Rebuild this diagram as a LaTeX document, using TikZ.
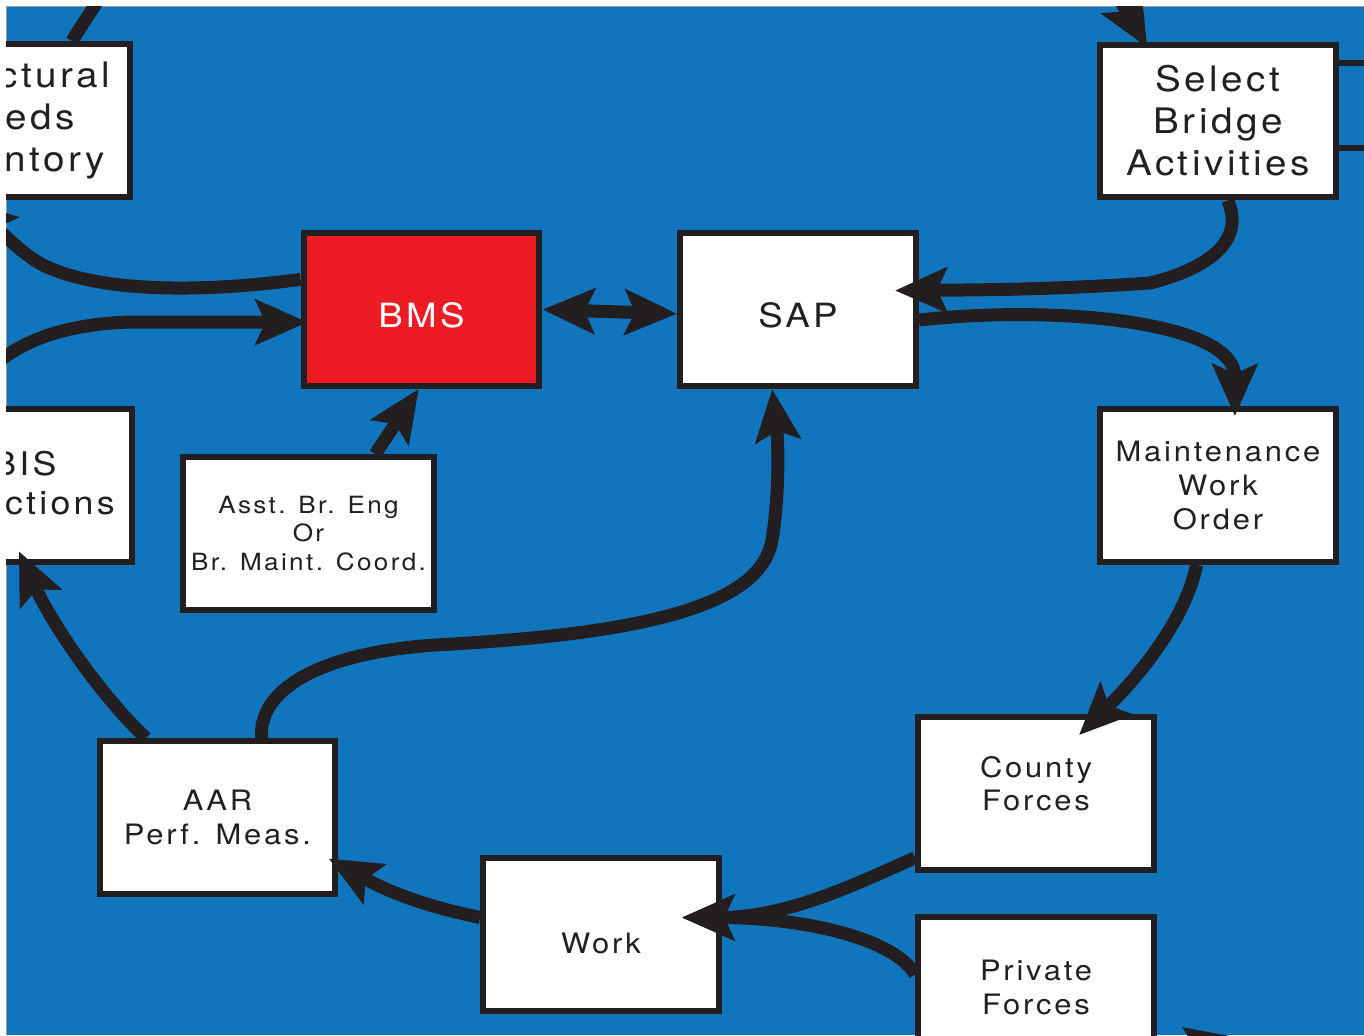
\documentclass[tikz,border=0pt]{standalone}
\usepackage{fontspec}
\setmainfont{TeX Gyre Heros}[LetterSpace=10, FakeStretch=1.1]
\usetikzlibrary{arrows.meta}
\definecolor{bgblue}{RGB}{17,117,189}
\definecolor{ink}{RGB}{35,31,32}
\definecolor{bmsred}{RGB}{237,28,36}

\begin{document}
\begin{tikzpicture}[x=0.02cm, y=-0.02cm,
  box/.style={draw=ink, line width=0.12cm, fill=white, text=ink, minimum width=4.72cm,
    minimum height=3.06cm, inner sep=0pt, align=center},
  bigtext/.style={font=\fontsize{20}{23.9}\selectfont},
  midtext/.style={font=\fontsize{16}{19.3}\selectfont},
  smalltext/.style={font=\fontsize{13.5}{16}\selectfont},
  oneline/.style={text height=0.75cm},
  link/.style={draw=ink, line width=0.26cm},
  flow/.style={link, >={Stealth[length=1.04cm, width=0.9cm, inset=0.2cm]}, ->},
  tieline/.style={draw=ink, line width=0.12cm}]

\fill[white] (0,0) rectangle (1364,1035);
\useasboundingbox (0,0) rectangle (1364,1035);
\fill[bgblue] (6,6) rectangle (1364,1035);
\draw[gray!80, line width=0.02cm] (6,1035) -- (6,6) -- (1364,6);

\begin{scope}
\clip (6,6) rectangle (1364,1035);

\node[box, bigtext] (sni) at (12,120.5) {Structural\\Needs\\Inventory};
\node[box, bigtext] (sba) at (1218,121) {Select\\Bridge\\Activities};
\node[box, oneline, fill=bmsred, text=white, font=\fontsize{19}{23}\selectfont] (bms) at (421.5,309.5) {BMS};
\node[box, oneline, font=\fontsize{19}{23}\selectfont] (sap) at (798,309.5) {SAP};
\node[box, midtext] (mwo) at (1218,485.5) {Maintenance\\Work\\Order};
\node[box, font=\fontsize{18.5}{22.2}\selectfont, minimum width=3.42cm, align=left, text depth=0.1cm] (bis) at (46.5,485.5) {\hspace*{0.28cm}BIS\\Actions};
\node[box, smalltext, minimum width=5.02cm] (asst) at (308.5,533.5) {Asst. Br. Eng\\Or\\Br. Maint. Coord.};
\node[box, midtext] (aar) at (217.5,817.5) {AAR\\Perf. Meas.};
\node[box, midtext, oneline] (work) at (601,934.5) {Work};
\node[box, midtext, text depth=0.4cm] (cty) at (1036,793.5) {County\\Forces};
\node[box, midtext, text depth=0.24cm] (prv) at (1036,993.5) {Private\\Forces};

\coordinate (sniout) at (106,-12);
\coordinate (sbain) at (1090,-52);
\coordinate (edgeA) at (1380,63);
\coordinate (edgeB) at (1380,148);
\coordinate (prvin) at (1262,1082);
\coordinate (prvtip) at (1182,1027);

\draw[link] (sni.53) -- (sniout);
\draw[flow, shorten >=-0.14cm] (sbain) -- (sba.133);
\draw[tieline] (sba.east |- edgeA) -- (edgeA);
\draw[tieline] (sba.east |- edgeB) -- (edgeB);

\draw[flow] (bms.166) .. controls (200,293) and (100,292) .. (45,266) .. controls (25,256) and (10,240) .. (sni.239);
\draw[flow, shorten >=-0.14cm] (bis.137) .. controls (-10,355) and (40,325) .. (130,322) -- (bms.186);
\draw[flow, <->] (bms.east) -- (sap.182);
\draw[flow] (asst.50) -- (bms.268);

\draw[flow, shorten >=-0.48cm] (sba.277) .. controls (1245,240) and (1210,268) .. (1150,283) .. controls (1050,290) and (960,290) .. (sap.9);
\draw[flow, shorten >=-0.2cm] (sap.355) .. controls (1050,305) and (1235,320) .. (mwo.78);
\draw[flow, shorten >=-0.6cm] (mwo.255) .. controls (1185,620) and (1140,675) .. (cty.51);

\draw[flow, shorten >=-0.8cm] (cty.208) .. controls (860,882) and (790,917) .. (work.8);
\draw[flow, shorten >=-0.8cm] (prv.171) .. controls (895,940) and (810,918) .. (work.8);
\draw[flow, shorten >=-0.22cm] (work.172) .. controls (420,905) and (385,890) .. (aar.339);
\draw[flow, shorten >=-0.3cm] (aar.132) .. controls (105,700) and (55,630) .. (bis.255);
\draw[flow] (aar.61) .. controls (258,685) and (330,652) .. (435,645) .. controls (620,635) and (760,612) .. (772,540) .. controls (780,490) and (778,440) .. (sap.252);

\draw[flow] (prvin) -- (prvtip);
\end{scope}
\end{tikzpicture}
\end{document}
